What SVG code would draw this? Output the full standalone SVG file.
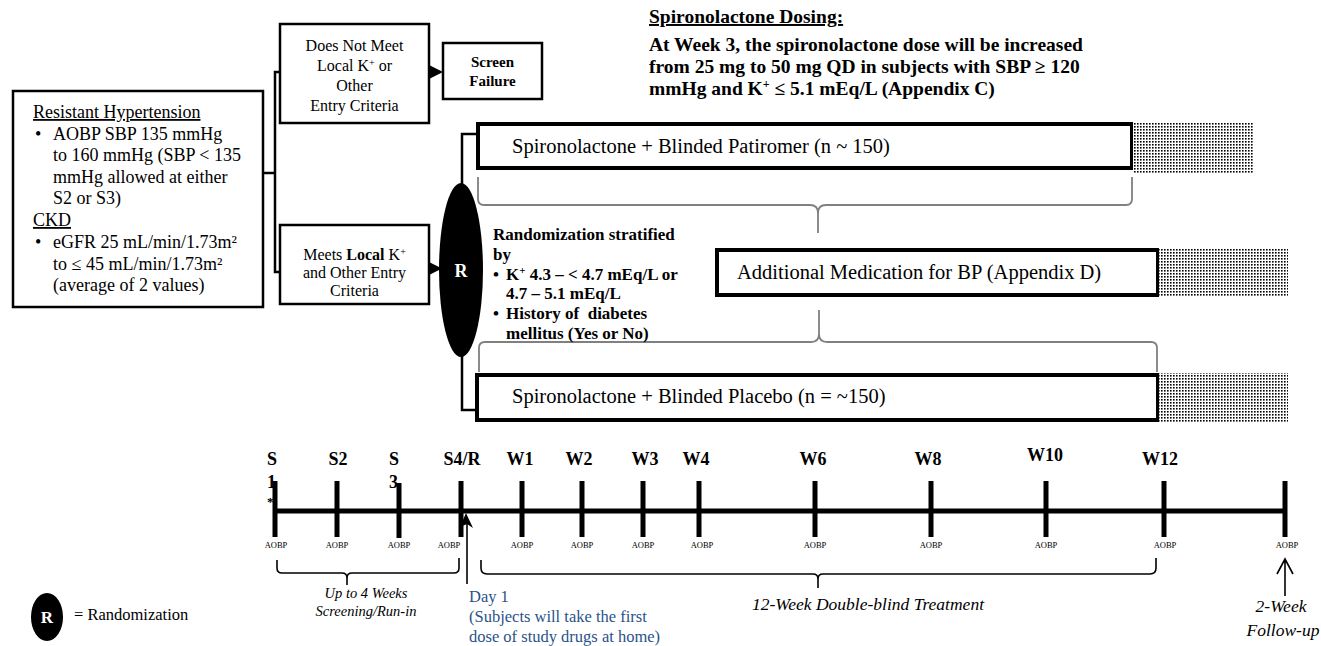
<svg xmlns="http://www.w3.org/2000/svg" width="1321" height="646" viewBox="0 0 1321 646">
<defs>
<pattern id="dots" width="3" height="3" patternUnits="userSpaceOnUse"><rect width="3" height="3" fill="#fff"/><rect width="1.6" height="1.6" fill="#000"/></pattern>
</defs>
<style>
text{font-family:"Liberation Serif","Times New Roman",serif;fill:#000}
.box{fill:#fff;stroke:#000;stroke-width:2.5}
.arm{fill:#fff;stroke:#000;stroke-width:4}
.pat{fill:url(#dots)}
.ln{fill:none;stroke:#000;stroke-width:2.5}
.ah{fill:#000;stroke:none}
.brace{fill:none;stroke:#808080;stroke-width:1.8}
.tb{fill:none;stroke:#000;stroke-width:1.6}
.tick{stroke:#000;stroke-width:5}
.b{font-weight:bold}
.i{font-style:italic}
.f18{font-size:18px}
.f16{font-size:16px}
.arm-t{font-size:20.5px}
.aobp{font-size:8.5px;text-anchor:middle}
.lbl{font-size:18px;font-weight:bold;text-anchor:middle}
.mid{text-anchor:middle}
.blue{fill:#2A5388}
</style>

<g id="connectors">
  <polyline class="ln" points="263,173 275,173"/>
  <polyline class="ln" points="280,72 275,72 275,272 280,272"/>
  <polygon class="ah" points="429,65 443,72 429,79"/>
  <polygon class="ah" points="429,262 442,268.5 429,275"/>
  <polyline class="ln" points="462,184 462,134 478,134"/>
  <polyline class="ln" points="462,356 462,410 477,410"/>
  <path class="brace" d="M478,177 L478,199 Q478,205 484,205 L810,205 Q818,205 818,213 L818,233 M818,213 Q818,205 826,205 L1126,205 Q1132,205 1132,199 L1132,177"/>
  <path class="brace" d="M479,372 L479,348 Q479,342 485,342 L811,342 Q819,342 819,334 L819,310 M819,334 Q819,342 827,342 L1151,342 Q1157,342 1157,348 L1157,372"/>
</g>

<g id="eligibility">
  <rect class="box" x="13" y="91" width="250" height="216"/>
  <text x="33" y="118" class="f18" text-decoration="underline">Resistant Hypertension</text>
  <text x="35" y="140" class="f18">•</text>
  <text x="53" y="140" class="f18">AOBP SBP 135 mmHg</text>
  <text x="53" y="161" class="f18">to 160 mmHg (SBP &lt; 135</text>
  <text x="53" y="183" class="f18">mmHg allowed at either</text>
  <text x="53" y="204" class="f18">S2 or S3)</text>
  <text x="33" y="226" class="f18" text-decoration="underline">CKD</text>
  <text x="35" y="248" class="f18">•</text>
  <text x="53" y="248" class="f18">eGFR 25 mL/min/1.73m²</text>
  <text x="53" y="270" class="f18">to ≤ 45 mL/min/1.73m²</text>
  <text x="53" y="291" class="f18">(average of 2 values)</text>
</g>

<g id="not-meet">
  <rect class="box" x="280" y="24" width="149" height="99"/>
  <text x="354.5" y="51" class="f16 mid">Does Not Meet</text>
  <text x="354.5" y="71" class="f16 mid">Local K<tspan font-size="10" baseline-shift="super">+</tspan> or</text>
  <text x="354.5" y="91" class="f16 mid">Other</text>
  <text x="354.5" y="111" class="f16 mid">Entry Criteria</text>
</g>

<g id="screen-failure">
  <rect class="box" x="443" y="43" width="99" height="56"/>
  <text x="492.5" y="67" class="b mid" font-size="15">Screen</text>
  <text x="492.5" y="86" class="b mid" font-size="15">Failure</text>
</g>

<g id="meets">
  <rect class="box" x="280" y="225" width="149" height="79"/>
  <text x="354.5" y="260" class="f16 mid">Meets <tspan font-weight="bold">Local</tspan> K<tspan font-size="10" baseline-shift="super">+</tspan></text>
  <text x="354.5" y="278" class="f16 mid">and Other Entry</text>
  <text x="354.5" y="296" class="f16 mid">Criteria</text>
</g>

<g id="randomization">
  <ellipse cx="461" cy="270" rx="22" ry="87" fill="#000"/>
  <text x="461" y="277" class="b mid f18" style="fill:#fff">R</text>
</g>

<g id="strata">
  <text x="493" y="240" class="b" font-size="17">Randomization stratified</text>
  <text x="493" y="260" class="b" font-size="17">by</text>
  <text x="493" y="280" class="b" font-size="17">•</text>
  <text x="506" y="280" class="b" font-size="17">K<tspan font-size="11" baseline-shift="super">+</tspan> 4.3 – &lt; 4.7 mEq/L or</text>
  <text x="506" y="299" class="b" font-size="17">4.7 – 5.1 mEq/L</text>
  <text x="493" y="319" class="b" font-size="17">•</text>
  <text x="506" y="319" class="b" font-size="17" xml:space="preserve">History of  diabetes</text>
  <text x="506" y="339" class="b" font-size="17">mellitus (Yes or No)</text>
</g>

<g id="dosing">
  <text x="649" y="23" class="b" font-size="19.5" text-decoration="underline">Spironolactone Dosing:</text>
  <text x="649" y="51" class="b" font-size="19.5">At Week 3, the spironolactone dose will be increased</text>
  <text x="649" y="73" class="b" font-size="19.5">from 25 mg to 50 mg QD in subjects with SBP ≥ 120</text>
  <text x="649" y="95" class="b" font-size="19.5">mmHg and K<tspan font-size="12" baseline-shift="super">+</tspan> ≤ 5.1 mEq/L (Appendix C)</text>
</g>

<g id="arm-patiromer">
  <rect class="arm" x="478" y="124" width="654" height="44"/>
  <rect class="pat" x="1133" y="122" width="120" height="52"/>
  <text x="512" y="153" class="arm-t">Spironolactone + Blinded Patiromer (n ~ 150)</text>
</g>

<g id="arm-additional">
  <rect class="arm" x="717" y="250" width="441" height="45"/>
  <rect class="pat" x="1159" y="248" width="129" height="49"/>
  <text x="737" y="279" class="arm-t">Additional Medication for BP (Appendix D)</text>
</g>

<g id="arm-placebo">
  <rect class="arm" x="477" y="375" width="681" height="45"/>
  <rect class="pat" x="1159" y="373" width="129" height="49"/>
  <text x="512" y="403" class="arm-t">Spironolactone + Blinded Placebo (n = ~150)</text>
</g>

<g id="timeline">
  <text x="267" y="465" class="b f18">S</text>
  <text x="267" y="488" class="b f18">1</text>
  <text x="267" y="506" class="b" font-size="13">*</text>
  <text x="338" y="465" class="lbl">S2</text>
  <text x="389" y="465" class="b f18">S</text>
  <text x="389" y="488" class="b f18">3</text>
  <text x="462" y="465" class="lbl">S4/R</text>
  <text x="520" y="465" class="lbl">W1</text>
  <text x="579" y="465" class="lbl">W2</text>
  <text x="645" y="465" class="lbl">W3</text>
  <text x="696" y="465" class="lbl">W4</text>
  <text x="813" y="465" class="lbl">W6</text>
  <text x="928" y="465" class="lbl">W8</text>
  <text x="1045" y="461" class="lbl">W10</text>
  <text x="1160" y="465" class="lbl">W12</text>
  <line class="tick" x1="273" y1="511" x2="1286" y2="511"/>
  <line class="tick" x1="275" y1="481" x2="275" y2="537"/>
  <line class="tick" x1="337" y1="481" x2="337" y2="537"/>
  <line class="tick" x1="399" y1="483" x2="399" y2="538"/>
  <line class="tick" x1="461" y1="481" x2="461" y2="537"/>
  <line class="tick" x1="522" y1="481" x2="522" y2="537"/>
  <line class="tick" x1="582" y1="481" x2="582" y2="537"/>
  <line class="tick" x1="643" y1="481" x2="643" y2="537"/>
  <line class="tick" x1="699" y1="481" x2="699" y2="537"/>
  <line class="tick" x1="815" y1="481" x2="815" y2="537"/>
  <line class="tick" x1="931" y1="481" x2="931" y2="537"/>
  <line class="tick" x1="1046" y1="481" x2="1046" y2="537"/>
  <line class="tick" x1="1164" y1="481" x2="1164" y2="537"/>
  <line class="tick" x1="1285" y1="481" x2="1285" y2="537"/>
  <text x="276" y="548" class="aobp">AOBP</text>
  <text x="337" y="548" class="aobp">AOBP</text>
  <text x="399" y="548" class="aobp">AOBP</text>
  <text x="449" y="548" class="aobp">AOBP</text>
  <text x="522" y="548" class="aobp">AOBP</text>
  <text x="582" y="548" class="aobp">AOBP</text>
  <text x="643" y="548" class="aobp">AOBP</text>
  <text x="702" y="548" class="aobp">AOBP</text>
  <text x="815" y="548" class="aobp">AOBP</text>
  <text x="931" y="548" class="aobp">AOBP</text>
  <text x="1046" y="548" class="aobp">AOBP</text>
  <text x="1165" y="548" class="aobp">AOBP</text>
  <text x="1287" y="548" class="aobp">AOBP</text>
</g>

<g id="day1">
  <line x1="467" y1="584" x2="467" y2="522" stroke="#000" stroke-width="1.6"/>
  <polygon class="ah" points="466,513 473,528 467,524 460,527"/>
  <text x="469" y="602" class="blue" font-size="16.5">Day 1</text>
  <text x="469" y="622" class="blue" font-size="16.5">(Subjects will take the first</text>
  <text x="469" y="642" class="blue" font-size="16.5">dose of study drugs at home)</text>
</g>

<g id="screening-period">
  <path class="tb" d="M277,560 L277,568 Q277,573 282,573 L342,573 Q347,573 347,578 L347,585 M347,578 Q347,573 352,573 L454,573 Q459,573 459,568 L459,558"/>
  <text x="366" y="598" class="i mid" font-size="14.5">Up to 4 Weeks</text>
  <text x="366" y="616" class="i mid" font-size="14.5">Screening/Run-in</text>
</g>

<g id="treatment-period">
  <path class="tb" d="M481,560 L481,568 Q481,574 487,574 L813,574 Q818,574 818,579 L818,588 M818,579 Q818,574 823,574 L1150,574 Q1156,574 1156,568 L1156,558"/>
  <text x="868" y="610" class="i mid" font-size="17.5">12-Week Double-blind Treatment</text>
</g>

<g id="follow-up">
  <path class="tb" d="M1285,596 L1285,559 M1277,574 L1285,559 L1293,574"/>
  <text x="1281" y="612" class="i mid" font-size="17.5">2-Week</text>
  <text x="1283" y="636" class="i mid" font-size="17.5">Follow-up</text>
</g>

<g id="legend">
  <ellipse cx="47" cy="617" rx="16" ry="24" fill="#000"/>
  <text x="47" y="623" class="b mid" font-size="17" style="fill:#fff">R</text>
  <text x="74" y="620" font-size="16.5">= Randomization</text>
</g>
</svg>
